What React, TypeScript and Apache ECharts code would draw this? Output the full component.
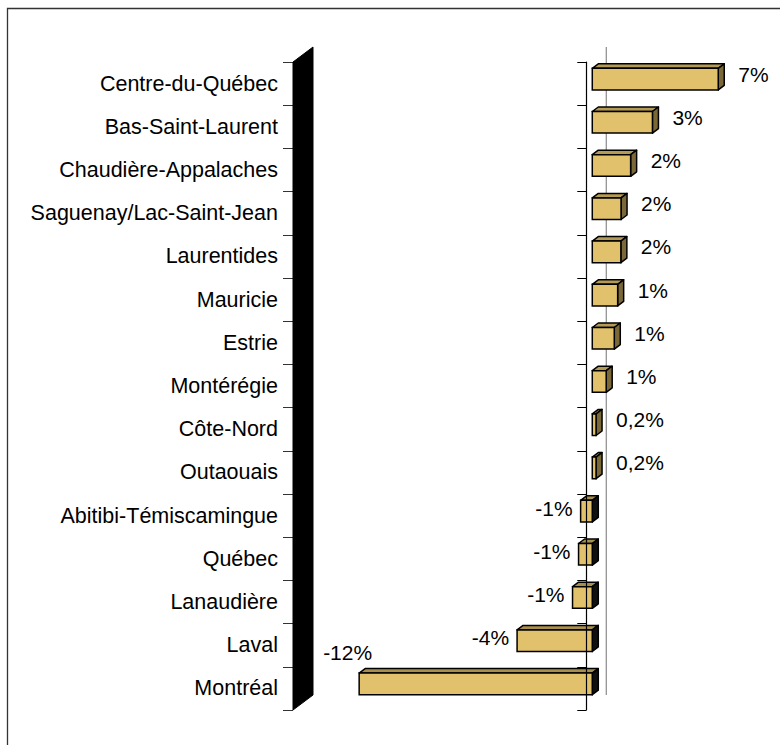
import React, { useEffect, useRef } from "react";
import * as echarts from "echarts";

const categories = [
  "Centre-du-Québec",
  "Bas-Saint-Laurent",
  "Chaudière-Appalaches",
  "Saguenay/Lac-Saint-Jean",
  "Laurentides",
  "Mauricie",
  "Estrie",
  "Montérégie",
  "Côte-Nord",
  "Outaouais",
  "Abitibi-Témiscamingue",
  "Québec",
  "Lanaudière",
  "Laval",
  "Montréal",
];

const values = [6.7, 3.2, 2.04, 1.53, 1.52, 1.35, 1.17, 0.74, 0.2, 0.2, -0.62, -0.73, -1.05, -4.0, -12.4];

const X_MIN = -15.6;
const X_MAX = 9.4;

// 3D look
const DEPTH_X = 20;
const DEPTH_Y = -15;
const BAR_FRONT = 0.3;
const BAR_DEPTH = 0.3;

const FONT = '"Liberation Sans", Arial, sans-serif';
const FRONT = "#E1C16C";
const TOP = "#B39B55";
const SIDE = "#7A6838";
const TOP_NEG = "#A88F4C";
const SIDE_NEG = "#111111";

function fmt(v: number): string {
  const a = Math.abs(v);
  if (a < 0.5) return v.toFixed(1).replace(".", ",") + "%";
  return Math.round(v) + "%";
}

export default function App() {
  const ref = useRef<HTMLDivElement>(null);
  useEffect(() => {
    if (!ref.current) return;
    const chart = echarts.init(ref.current, undefined, { renderer: "svg" });
    const n = categories.length;

    const option: any = {
      animation: false,
      backgroundColor: "#ffffff",
      grid: { left: 293, top: 62, width: 470, height: 648 },
      xAxis: {
        type: "value",
        min: X_MIN,
        max: X_MAX,
        show: false,
        axisLine: { onZero: false },
      },
      yAxis: [
        {
          type: "category",
          inverse: true,
          data: categories,
          position: "left",
          axisLine: { show: false, onZero: false },
          axisTick: { show: true, length: 10, interval: 0, lineStyle: { color: "#333", width: 1 } },
          axisLabel: {
            interval: 0,
            margin: 15,
            fontSize: 21.5,
            color: "#000",
            fontFamily: FONT,
          },
          splitLine: { show: false },
        },
        {
          type: "category",
          inverse: true,
          data: categories,
          position: "left",
          z: 5,
          axisLine: { show: true, onZero: true, lineStyle: { color: "#000", width: 1.2 } },
          axisTick: { show: true, length: 9, interval: 0, lineStyle: { color: "#000", width: 1 } },
          axisLabel: { show: false },
          splitLine: { show: false },
        },
      ],
      graphic: [
        {
          type: "rect",
          shape: { x: 7.5, y: 8.5, width: 1000, height: 1000 },
          style: { fill: "none", stroke: "#333", lineWidth: 1.3 },
          silent: true,
          z: 100,
        },
      ],
      series: [
        {
          type: "custom",
          name: "structure",
          z: 1,
          yAxisIndex: 0,
          data: [[X_MIN, 0]],
          encode: { x: 0, y: 1 },
          renderItem: (params: any, api: any) => {
            const band = api.size([0, 1])[1];
            const tl = api.coord([X_MIN, 0]);
            const bl = api.coord([X_MIN, n - 1]);
            const top = tl[1] - band / 2;
            const bottom = bl[1] + band / 2;
            const left = tl[0];
            const z0 = api.coord([0, 0])[0];
            return {
              type: "group",
              children: [
                {
                  type: "polygon",
                  shape: {
                    points: [
                      [left, top],
                      [left + DEPTH_X, top + DEPTH_Y],
                      [left + DEPTH_X, bottom + DEPTH_Y],
                      [left, bottom],
                    ],
                  },
                  style: { fill: "#000", stroke: "#000", lineWidth: 1 },
                },
                {
                  type: "line",
                  shape: { x1: z0 + DEPTH_X, y1: top + DEPTH_Y, x2: z0 + DEPTH_X, y2: bottom + DEPTH_Y },
                  style: { stroke: "#8a8a8a", lineWidth: 1.2 },
                },
              ],
            };
          },
        },
        {
          type: "custom",
          name: "bars",
          z: 2,
          yAxisIndex: 0,
          data: values.map((v, i) => [v, i]),
          encode: { x: 0, y: 1 },
          renderItem: (params: any, api: any) => {
            const v = api.value(0);
            const i = api.value(1);
            const p0 = api.coord([0, i]);
            const p1 = api.coord([v, i]);
            const band = api.size([0, 1])[1];
            const h = band * 0.5;
            const ox = DEPTH_X * BAR_FRONT;
            const oy = DEPTH_Y * BAR_FRONT;
            const dx = DEPTH_X * BAR_DEPTH;
            const dy = DEPTH_Y * BAR_DEPTH;
            const xa = Math.min(p0[0], p1[0]) + ox;
            const xb = Math.max(p0[0], p1[0]) + ox;
            const yc = p0[1] + oy;
            const yt = yc - h / 2;
            const yb = yc + h / 2;
            const neg = v < 0;
            const wallRight = api.coord([X_MIN, i])[0] + DEPTH_X;

            let label: any;
            if (!neg) {
              label = { x: xb + 20, y: yc - 5, align: "left" };
            } else if (xa - 8 - 60 > wallRight) {
              label = { x: xa - 8, y: yc - 3, align: "right" };
            } else {
              label = { x: xa + 13, y: yt - 21, align: "right" };
            }

            return {
              type: "group",
              children: [
                {
                  type: "polygon",
                  shape: {
                    points: [
                      [xa, yt],
                      [xa + dx, yt + dy],
                      [xb + dx, yt + dy],
                      [xb, yt],
                    ],
                  },
                  style: { fill: neg ? TOP_NEG : TOP, stroke: "#000", lineWidth: 1.5, lineJoin: "round" },
                },
                {
                  type: "polygon",
                  shape: {
                    points: [
                      [xb, yt],
                      [xb + dx, yt + dy],
                      [xb + dx, yb + dy],
                      [xb, yb],
                    ],
                  },
                  style: { fill: neg ? SIDE_NEG : SIDE, stroke: "#000", lineWidth: 1.5, lineJoin: "round" },
                },
                {
                  type: "rect",
                  shape: { x: xa, y: yt, width: xb - xa, height: h },
                  style: { fill: FRONT, stroke: "#000", lineWidth: 1.5 },
                },
                {
                  type: "text",
                  style: {
                    text: fmt(v),
                    x: label.x,
                    y: label.y,
                    align: label.align,
                    verticalAlign: "middle",
                    fontSize: 21,
                    fontFamily: FONT,
                    fill: "#000",
                  },
                },
              ],
            };
          },
        },
      ],
    };

    chart.setOption(option);
    return () => chart.dispose();
  }, []);

  return (
    <div
      ref={ref}
      style={{ position: "absolute", left: 0, top: 0, width: 780, height: 745 }}
    />
  );
}
